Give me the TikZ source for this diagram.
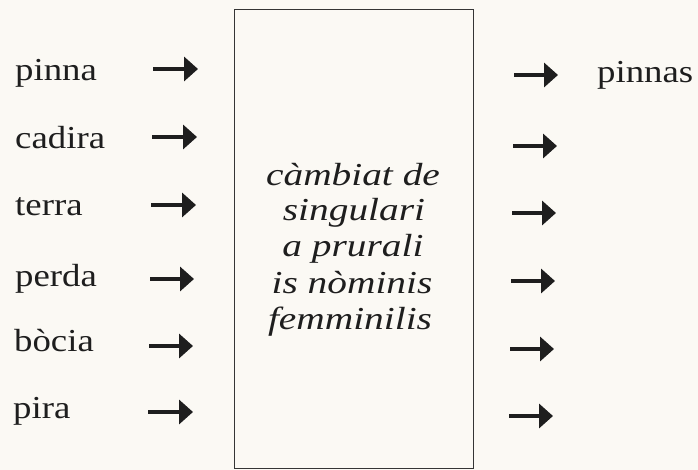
\documentclass[tikz,border=0pt]{standalone}
\usepackage{fontspec}
\setmainfont{Liberation Serif}[FakeStretch=1.15, ItalicFeatures={FakeStretch=1.23}]
\usetikzlibrary{arrows.meta}
\definecolor{bgc}{RGB}{251,249,244}
\definecolor{ink}{RGB}{30,30,30}
\tikzset{
  word/.style={anchor=base west, inner sep=0pt, text=ink, font=\fontsize{32}{36}\selectfont},
  cline/.style={anchor=base, inner sep=0pt, text=ink, font=\fontsize{32}{36}\selectfont\itshape},
  arr/.style={draw=ink, line width=4.5pt, -{Triangle[length=14pt 0,width=24pt 0]}},
  frame/.style={draw=ink!90, line width=1pt, inner sep=0pt}
}
\begin{document}
\begin{tikzpicture}[x=1pt,y=-1pt]
\fill[bgc] (0,0) rectangle (698,470);
\useasboundingbox (0,0) rectangle (698,470);
% box
\node[frame, minimum width=239pt, minimum height=458pt] (box) at (353.5,239) {};
% centre text
\node[cline] (c1) at (353,186) {càmbiat de};
\node[cline] (c2) at (354,221) {singulari};
\node[cline] (c3) at (353,257) {a prurali};
\node[cline] (c4) at (352,293) {is nòminis};
\node[cline] (c5) at (350,329) {femminilis};
% left words
\node[word] (w1) at (15,81) {pinna};
\node[word] (w2) at (15,149) {cadira};
\node[word] (w3) at (15,216) {terra};
\node[word] (w4) at (15,286) {perda};
\node[word] (w5) at (14,351) {bòcia};
\node[word] (w6) at (13,418) {pira};
% right word
\node[word] (r1) at (597,83) {pinnas};
% left arrows
\coordinate (la1) at (153,69);  \coordinate (lb1) at (198,69);
\coordinate (la2) at (152,137); \coordinate (lb2) at (197,137);
\coordinate (la3) at (151,205); \coordinate (lb3) at (196,205);
\coordinate (la4) at (150,279); \coordinate (lb4) at (194,279);
\coordinate (la5) at (149,346); \coordinate (lb5) at (193,346);
\coordinate (la6) at (148,412); \coordinate (lb6) at (193,412);
% right arrows
\coordinate (ra1) at (514,75);  \coordinate (rb1) at (558,75);
\coordinate (ra2) at (513,146); \coordinate (rb2) at (557,146);
\coordinate (ra3) at (512,213); \coordinate (rb3) at (556,213);
\coordinate (ra4) at (511,281); \coordinate (rb4) at (555,281);
\coordinate (ra5) at (510,349); \coordinate (rb5) at (554,349);
\coordinate (ra6) at (509,416); \coordinate (rb6) at (553,416);
\foreach \i in {1,...,6}{
  \draw[arr] (la\i) -- (lb\i);
  \draw[arr] (ra\i) -- (rb\i);
}
\end{tikzpicture}
\end{document}
